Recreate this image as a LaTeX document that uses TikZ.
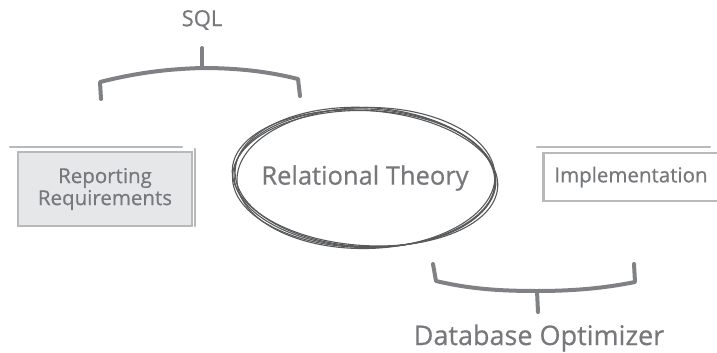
\documentclass[tikz,border=0pt]{standalone}
\usepackage{fontspec}
\setmainfont{Open Sans}[FakeBold=0.6]
\usetikzlibrary{shapes.geometric}
\definecolor{txt}{HTML}{77787B}
\definecolor{brk}{HTML}{808184}
\definecolor{boxb}{HTML}{B8B9BB}
\definecolor{boxf}{HTML}{E6E7E8}
\definecolor{ell}{HTML}{58595B}
\begin{document}
\begin{tikzpicture}[x=1pt,y=-1pt,
  lbl/.style={text=txt, inner sep=0pt, align=center},
  boxline/.style={draw=boxb, line width=2.6pt, line cap=round},
  bracket/.style={draw=brk, line width=4pt, line cap=round, line join=round},
  ringline/.style={draw=ell, line width=1.1pt}]
\useasboundingbox (0,0) rectangle (717,353);
% left box
\node[draw=boxb, line width=2.6pt, fill=boxf, minimum width=174pt, minimum height=74pt, inner sep=0pt] (rep) at (105,189) {};
\draw[boxline] (10,147) -- (182,147);
\draw[boxline] (195,149) -- (195,226);
\node[lbl, font=\fontsize{20.5}{22}\selectfont] (reptxt) at (rep.center) {Reporting\\Requirements};
% right box
\node[draw=boxb, line width=2.6pt, fill=white, minimum width=190pt, minimum height=48pt, inner sep=0pt, anchor=west] (imp) at (542,177) {};
\draw[boxline] (537,147) -- (710,147);
\node[lbl, font=\fontsize{20.5}{24}\selectfont] (imptxt) at (631,177) {Implementation};
% ellipse
\node[ellipse, ringline, minimum width=262pt, minimum height=138pt, rotate=-2] (rt) at (365,178) {};
\node[ellipse, ringline, minimum width=266pt, minimum height=135pt, rotate=-4] (rt2) at (365,178) {};
\node[ellipse, ringline, minimum width=258pt, minimum height=141pt, rotate=1] (rt3) at (366,178) {};
\node[ellipse, ringline, minimum width=263pt, minimum height=137pt, rotate=-1] (rt4) at (364,179) {};
\node[ellipse, ringline, minimum width=260pt, minimum height=139pt, rotate=-3] (rt5) at (365,177) {};
\node[lbl, font=\fontsize{25.5}{28}\selectfont] (rttxt) at (365,178) {Relational Theory};
% top bracket
\coordinate (tl) at (101,99);
\coordinate (tr) at (300,96);
\coordinate (tm) at (202,68);
\coordinate (ts) at (202,48);
\draw[bracket] (tl) -- (100,82) .. controls (140,72) and (170,69) .. (tm) .. controls (240,68) and (270,72) .. (298,79) -- (tr);
\draw[bracket] (tm) -- (ts);
\node[lbl, font=\fontsize{22}{24}\selectfont] (sql) at (202,20) {SQL};
% bottom bracket
\coordinate (bl) at (433,264);
\coordinate (br) at (634,264);
\coordinate (bm) at (537,291);
\coordinate (bs) at (538,312);
\draw[bracket] (bl) -- (436,281) .. controls (470,289) and (500,291) .. (bm) .. controls (580,291) and (610,287) .. (635,282) -- (br);
\draw[bracket] (bm) -- (bs);
\node[lbl, font=\fontsize{27}{30}\selectfont] (dbo) at (539,338) {Database Optimizer};
\end{tikzpicture}
\end{document}
